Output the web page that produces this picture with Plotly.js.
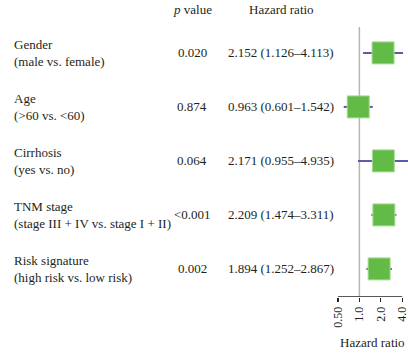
<!DOCTYPE html>
<html><head><meta charset="utf-8">
<script src="https://cdn.plot.ly/plotly-3.0.1.min.js"></script>
<style>html,body{margin:0;padding:0;background:#fff}#chart{width:408px;height:355px}</style>
</head><body><div id="chart"></div>
<script>
const variables = ["Gender", "Age", "Cirrhosis", "TNM stage", "Risk signature"];
const comparisons = ["(male vs. female)", "(>60 vs. <60)", "(yes vs. no)", "(stage III + IV vs. stage I + II)", "(high risk vs. low risk)"];
const pValues = ["0.020", "0.874", "0.064", "<0.001", "0.002"];
const hr = [2.152, 0.963, 2.171, 2.209, 1.894];
const ciLow = [1.126, 0.601, 0.955, 1.474, 1.252];
const ciHigh = [4.113, 1.542, 4.935, 3.311, 2.867];
const tickVals = [0.5, 1, 2, 4];
const tickText = ["0.50", "1.0", "2.0", "4.0"];

const W = 408, H = 355;
const rows = hr.map((_, i) => i);
const fontFam = "Liberation Serif, Times New Roman, serif";
const txtColor = "#231f20";

const trace = {
  type: "scatter", mode: "markers",
  x: hr, y: rows,
  marker: {symbol: "square", size: 22, color: "#62bb46", line: {color: "#a6dc93", width: 1}},
  error_x: {type: "data", symmetric: false,
    array: hr.map((v, i) => ciHigh[i] - v),
    arrayminus: hr.map((v, i) => v - ciLow[i]),
    color: "#5b5ba8", thickness: 2, width: 0},
  hoverinfo: "skip", cliponaxis: true
};

const annotations = [];
rows.forEach(i => {
  annotations.push({xref: "paper", yref: "y", x: 12 / W, y: i, xanchor: "left", yanchor: "middle", align: "left",
    text: variables[i] + "<br>" + comparisons[i], showarrow: false});
  annotations.push({xref: "paper", yref: "y", x: 192 / W, y: i, xanchor: "center", yanchor: "middle",
    text: pValues[i], showarrow: false});
  annotations.push({xref: "paper", yref: "y", x: 281 / W, y: i, xanchor: "center", yanchor: "middle",
    text: hr[i].toFixed(3) + " (" + ciLow[i].toFixed(3) + "\u2013" + ciHigh[i].toFixed(3) + ")", showarrow: false});
});
annotations.push({xref: "paper", yref: "paper", x: 192 / W, y: 1 - 10 / H, xanchor: "center", yanchor: "middle", text: "<i>p</i> value", showarrow: false});
annotations.push({xref: "paper", yref: "paper", x: 281 / W, y: 1 - 10 / H, xanchor: "center", yanchor: "middle", text: "Hazard ratio", showarrow: false});
annotations.push({xref: "paper", yref: "paper", x: 372 / W, y: 1 - 342 / H, xanchor: "center", yanchor: "middle", text: "Hazard ratio", showarrow: false});

const x0px = 338;
const xUpper = 0.5 * Math.pow(2, (W - x0px) / 21.4);
const layout = {
  width: W, height: H,
  margin: {l: 0, r: 0, t: 0, b: 0},
  paper_bgcolor: "#fff", plot_bgcolor: "#fff",
  font: {family: fontFam, size: 13, color: txtColor},
  showlegend: false,
  xaxis: {type: "log", range: [Math.log10(0.5), Math.log10(xUpper)], domain: [x0px / W, 1],
    tickvals: tickVals, ticktext: tickText, tickangle: -90, ticks: "outside", ticklen: 4, tickcolor: "#231f20", tickwidth: 1.3,
    ticklabeloverflow: "allow",
    showgrid: false, zeroline: false, showline: false, fixedrange: true,
    tickfont: {family: fontFam, size: 12, color: txtColor}},
  yaxis: {range: [4.52, -0.48], domain: [(H - 297) / H, (H - 27) / H], visible: false, fixedrange: true},
  shapes: [
    {type: "line", xref: "x", yref: "y", x0: 1, x1: 1, y0: -0.48, y1: 4.52, line: {color: "#b5b5b8", width: 1.5}, layer: "below"},
    {type: "line", xref: "x", yref: "y", x0: 0.5, x1: 4, y0: 4.52, y1: 4.52, line: {color: "#231f20", width: 1.5}}
  ],
  annotations: annotations
};
Plotly.newPlot("chart", [trace], layout, {displayModeBar: false, staticPlot: true});
</script></body></html>
